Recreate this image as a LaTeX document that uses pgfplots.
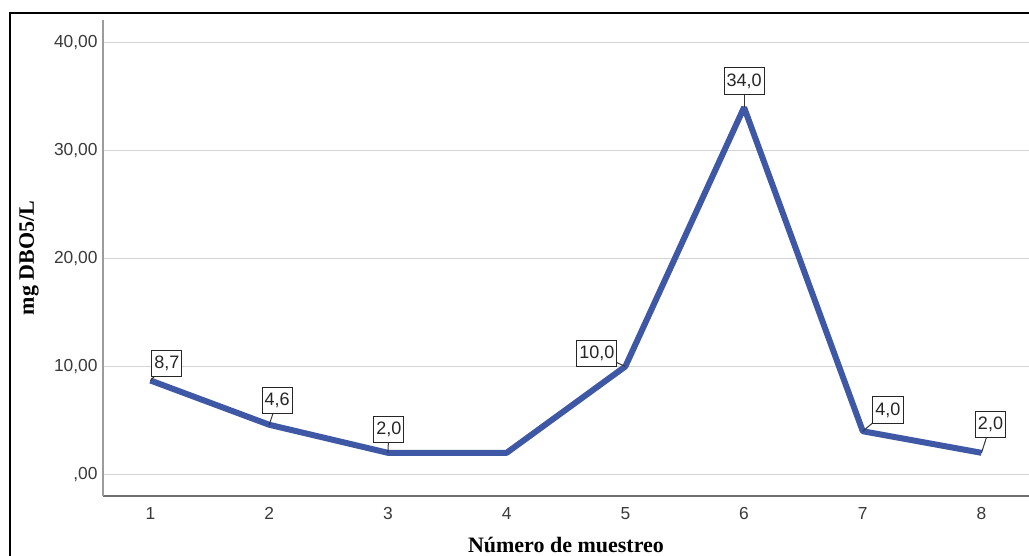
\documentclass[border=0pt]{standalone}
\usepackage{fontspec}
\setmainfont{Liberation Sans}
\newfontfamily\lserif{Liberation Serif}
\usepackage{pgfplots}
\pgfplotsset{compat=1.18}
\definecolor{spssblue}{HTML}{3E58A6}
\definecolor{gridc}{HTML}{D4D4D4}
\definecolor{ticktext}{HTML}{3A3A3A}
\definecolor{xaxisc}{HTML}{707070}
\definecolor{yaxisc}{HTML}{9C9C9C}
\tikzset{
  lbl/.style={draw=black!85, line width=0.5pt, fill=white, inner xsep=1.25pt, inner ysep=2.8pt, font=\fontsize{9}{10}\selectfont, text=black!85},
  leader/.style={draw=black!80, line width=0.5pt},
}
\begin{document}
\begin{tikzpicture}
\useasboundingbox (-51.5pt,-30pt) rectangle (463pt,248pt);
\fill[white] (-51.5pt,-30pt) rectangle (463pt,248pt);
\draw[black, line width=1pt] (-46.5pt,-40pt) -- (-46.5pt,241.5pt) -- (470pt,241.5pt);
\begin{axis}[
  at={(0,0)}, anchor=south west,
  scale only axis, width=463pt, height=238pt,
  xmin=0.6, xmax=8.4, ymin=-2, ymax=42.1,
  axis x line=bottom, axis y line=left,
  x axis line style={-, draw=xaxisc, line width=0.75pt},
  y axis line style={-, draw=yaxisc, line width=0.75pt},
  major tick length=0pt,
  tick style={draw=none},
  xtick={1,2,3,4,5,6,7,8},
  xticklabels={1,2,3,4,5,6,7,8},
  ytick={0,10,20,30,40},
  yticklabels={{,00},{10,00},{20,00},{30,00},{40,00}},
  ymajorgrids,
  grid style={draw=gridc, line width=0.75pt},
  tick label style={font=\fontsize{8.7}{10}\selectfont, text=ticktext, inner sep=0pt},
  xticklabel style={anchor=north, yshift=-5.5pt},
  yticklabel style={anchor=east, xshift=-2.5pt},
  xlabel={Número de muestreo},
  ylabel={mg DBO5/L},
  xlabel style={font=\lserif\bfseries\fontsize{11}{13}\selectfont, at={(axis description cs:0.5,-0.118)}, anchor=base, inner sep=0pt},
  ylabel style={font=\lserif\bfseries\fontsize{11}{13}\selectfont, at={(axis description cs:-0.0799,0.5)}, anchor=center, inner sep=0pt},
  clip=false,
]
\addplot[spssblue, line width=3pt, line join=bevel, mark=none] coordinates {
  (1,8.7) (2,4.6) (3,2.0) (4,2.0) (5,10.0) (6,34.0) (7,4.0) (8,2.0)
};
\draw[leader] (axis cs:1,8.7) -- ++(8.25pt,8.7pt) node[lbl]{8,7};
\draw[leader] (axis cs:2,4.6) -- ++(4pt,12pt) node[lbl]{4,6};
\draw[leader] (axis cs:3,2.0) -- ++(0.5pt,11.5pt) node[lbl]{2,0};
\draw[leader] (axis cs:5,10.0) -- ++(-14.2pt,6.45pt) node[lbl]{10,0};
\draw[leader] (axis cs:6,34.0) -- ++(0pt,13.2pt) node[lbl]{34,0};
\draw[leader] (axis cs:7,4.0) -- ++(12.6pt,10.6pt) node[lbl]{4,0};
\draw[leader] (axis cs:8,2.0) -- ++(4.5pt,14pt) node[lbl]{2,0};
\end{axis}
\end{tikzpicture}
\end{document}
